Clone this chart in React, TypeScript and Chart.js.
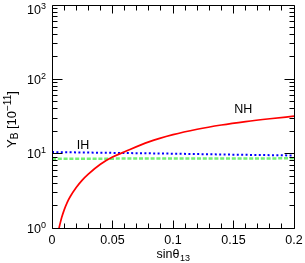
import React, { useEffect, useRef } from "react";
import { Chart, registerables } from "chart.js";

Chart.register(...registerables);

// ---- data ----
const nhX = [0.0055, 0.007, 0.008, 0.01, 0.0125, 0.015, 0.02, 0.025, 0.03, 0.04, 0.05, 0.06, 0.08, 0.1, 0.12, 0.14, 0.16, 0.18, 0.2];
const nhY = [0.95, 1.2, 1.38, 1.74, 2.2, 2.63, 3.5, 4.4, 5.3, 7.2, 9.0, 10.6, 14.4, 18.0, 21.3, 24.3, 27.0, 29.5, 31.9];
const ihX = [0, 0.05, 0.1, 0.15, 0.2];
const ihY = [10.5, 10.25, 10.0, 9.7, 9.45];
const grX = [0, 0.1, 0.2];
const grY = [8.55, 8.6, 8.65];

const xTickValues = [0, 0.05, 0.1, 0.15, 0.2];
const xTickLabels = ["0", "0.05", "0.1", "0.15", "0.2"];
const yDecades = [1, 10, 100, 1000];
const yExponents = ["0", "1", "2", "3"];

const curveLabels = ["NH", "IH"];
const curveLabelX = [0.158, 0.0257];
const curveLabelY = [39, 12.9];

const FONT = "'Liberation Sans', Arial, Helvetica, sans-serif";

const toPoints = (xs: number[], ys: number[]) => xs.map((x, i) => ({ x, y: ys[i] }));

const framePlugin = {
  id: "framePlugin",
  afterDatasetsDraw(chart: any) {
    const { ctx, chartArea: a, scales } = chart;
    const xs = scales.x;
    const ys = scales.y;
    const c = (v: number) => Math.floor(v) + 0.5;
    const L = c(a.left), R = c(a.right), T = c(a.top), B = c(a.bottom);
    ctx.save();
    ctx.strokeStyle = "#000";
    ctx.lineWidth = 1;
    ctx.beginPath();
    ctx.rect(L, T, R - L, B - T);
    // x ticks (inside, bottom and top)
    for (let i = 0; i <= 20; i++) {
      const px = c(xs.getPixelForValue(i / 100));
      const len = i % 5 === 0 ? 8 : 5;
      ctx.moveTo(px, B);
      ctx.lineTo(px, B - len);
      ctx.moveTo(px, T);
      ctx.lineTo(px, T + len);
    }
    // y ticks (inside, left and right)
    for (let d = 0; d < 3; d++) {
      for (let m = 1; m <= 9; m++) {
        const v = m * Math.pow(10, d);
        const py = c(ys.getPixelForValue(v));
        const len = m === 1 ? 10 : 5;
        ctx.moveTo(L, py);
        ctx.lineTo(L + len, py);
        ctx.moveTo(R, py);
        ctx.lineTo(R - len, py);
      }
    }
    ctx.stroke();

    ctx.fillStyle = "#000";
    // x tick labels
    ctx.font = `12.5px ${FONT}`;
    ctx.textAlign = "center";
    ctx.textBaseline = "alphabetic";
    xTickValues.forEach((v, i) => {
      ctx.fillText(xTickLabels[i], xs.getPixelForValue(v), 244);
    });

    // y tick labels 10^n
    yDecades.forEach((v, i) => {
      const py = ys.getPixelForValue(v);
      const base = Math.max(py + 4.5, 13.5);
      ctx.font = `9px ${FONT}`;
      const wSup = ctx.measureText(yExponents[i]).width;
      ctx.font = `12.5px ${FONT}`;
      const wMain = ctx.measureText("10").width;
      const right = 46;
      ctx.textAlign = "left";
      ctx.fillText("10", right - wSup - wMain, base);
      ctx.font = `9px ${FONT}`;
      ctx.fillText(yExponents[i], right - wSup, base - 5);
    });

    // x title: sinθ13
    {
      ctx.font = `12.5px ${FONT}`;
      const w1 = ctx.measureText("sinθ").width;
      ctx.font = `9px ${FONT}`;
      const w2 = ctx.measureText("13").width;
      const cx = (a.left + a.right) / 2;
      const x0 = cx - (w1 + w2) / 2;
      ctx.textAlign = "left";
      ctx.font = `12.5px ${FONT}`;
      ctx.fillText("sinθ", x0, 257.5);
      ctx.font = `9px ${FONT}`;
      ctx.fillText("13", x0 + w1 + 0.5, 261);
    }

    // y title: Y_B [10^-11]
    {
      ctx.save();
      ctx.translate(15.5, 148);
      ctx.rotate(-Math.PI / 2);
      ctx.textAlign = "left";
      let x = 0;
      const part = (t: string, size: number, dy: number) => {
        ctx.font = `${size}px ${FONT}`;
        ctx.fillText(t, x, dy);
        x += ctx.measureText(t).width;
      };
      part("Y", 13, 0);
      part("B", 10, 2.5);
      part(" [10", 13, 0);
      part("\u221211", 10, -4.5);
      part("]", 13, 0);
      ctx.restore();
    }

    // curve labels
    ctx.font = `12.5px ${FONT}`;
    ctx.textAlign = "center";
    ctx.textBaseline = "middle";
    curveLabels.forEach((t, i) => {
      ctx.fillText(t, xs.getPixelForValue(curveLabelX[i]), ys.getPixelForValue(curveLabelY[i]));
    });
    ctx.restore();
  },
};

export default function App() {
  const ref = useRef<HTMLCanvasElement | null>(null);
  useEffect(() => {
    if (!ref.current) return;
    const chart = new Chart(ref.current, {
      type: "line",
      data: {
        datasets: [
          {
            data: toPoints(nhX, nhY),
            borderColor: "#ff0000",
            borderWidth: 1.7,
            pointRadius: 0,
            cubicInterpolationMode: "monotone",
            clip: 0,
          },
          {
            data: toPoints(ihX, ihY),
            borderColor: "#0000ff",
            borderWidth: 2,
            borderDash: [2, 2.4],
            pointRadius: 0,
            clip: 0,
          },
          {
            data: toPoints(grX, grY),
            borderColor: "#72f272",
            borderWidth: 2.5,
            borderDash: [4, 1.8],
            pointRadius: 0,
            clip: 0,
          },
        ],
      } as any,
      options: {
        animation: false,
        responsive: false,
        devicePixelRatio: 1,
        layout: { padding: { left: 52, top: 5, right: 11, bottom: 35 } },
        plugins: { legend: { display: false }, tooltip: { enabled: false } },
        scales: {
          x: { type: "linear", min: 0, max: 0.2, display: false },
          y: { type: "logarithmic", min: 1, max: 1000, display: false },
        },
      } as any,
      plugins: [framePlugin],
    });
    return () => chart.destroy();
  }, []);
  return (
    <div style={{ position: "fixed", left: 0, top: 0, width: 305, height: 263, background: "#fff" }}>
      <canvas ref={ref} width={305} height={263} style={{ display: "block" }} />
    </div>
  );
}
